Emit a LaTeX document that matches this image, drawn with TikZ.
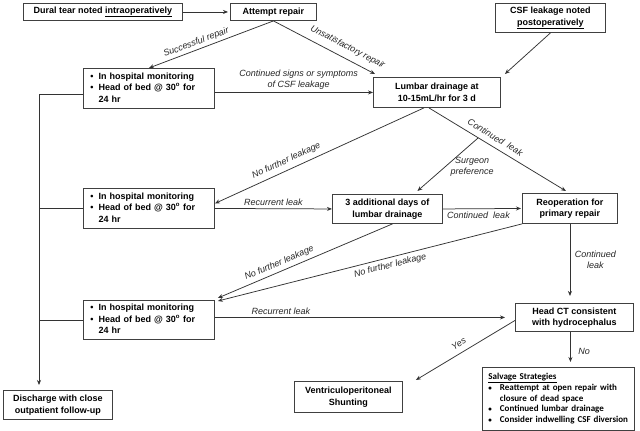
\documentclass[tikz,border=0pt]{standalone}
\usepackage{fontspec}
\setmainfont{Liberation Sans}
\newfontfamily\carlitofont{Carlito}
\usetikzlibrary{arrows.meta,calc}
\newcommand\monitortext{\begin{tabular}{@{}l@{\hspace{5pt}}l@{}}•&In hospital monitoring\\•&Head of bed @ 30\textsuperscript{o} for\\&24 hr\end{tabular}}
\begin{document}
\begin{tikzpicture}[x=1pt,y=-1pt,
  box/.style={draw=black!75, line width=0.9pt, fill=white, inner sep=0pt, align=center,
    font=\fontsize{9}{11.5}\selectfont\bfseries, anchor=north west},
  mon/.style={box, text width=117pt, inner xsep=7pt, align=left, minimum width=131pt},
  conn/.style={draw=black!80, line width=0.75pt},
  arr/.style={conn, -{Stealth[length=5pt,width=4pt]}},
  lbl/.style={font=\fontsize{9}{11}\selectfont\itshape, inner sep=1.5pt, text=black!85}]
\useasboundingbox (0,0) rectangle (640,431);
\fill[white] (0,0) rectangle (640,431);
\coordinate (rail) at (39,0);
% boxes
\node[box, minimum width=159pt, minimum height=17pt] (dural) at (23,3) {Dural tear noted \underline{intraoperatively}};
\node[box, minimum width=86pt, minimum height=17pt] (attempt) at (230,3) {Attempt repair};
\node[box, minimum width=110pt, minimum height=29pt] (csf) at (495,3) {CSF leakage noted\\\underline{postoperatively}};
\node[mon, minimum height=40pt] (m1) at (83,68) {\monitortext};
\node[box, minimum width=127pt, minimum height=30pt] (lumbar) at (373,77) {Lumbar drainage at\\10-15mL/hr for 3 d};
\node[mon, minimum height=40pt] (m2) at (83,188) {\monitortext};
\node[box, minimum width=110pt, minimum height=29pt] (add) at (332,194) {3 additional days of\\lumbar drainage};
\node[box, minimum width=95pt, minimum height=30pt] (reop) at (522,193) {Reoperation for\\primary repair};
\node[mon, minimum height=39pt] (m3) at (83,300) {\monitortext};
\node[box, minimum width=118pt, minimum height=28pt] (ct) at (515,303) {Head CT consistent\\with hydrocephalus};
\node[box, minimum width=109pt, minimum height=29pt] (disch) at (3,390) {Discharge with close\\outpatient follow-up};
\node[box, minimum width=108pt, minimum height=31pt] (vp) at (294,381) {Ventriculoperitoneal\\Shunting};
\node[box, text width=140pt, inner xsep=6pt, align=left, minimum height=63pt,
  font=\carlitofont\bfseries\fontsize{9}{10.6}\selectfont] (salv) at (482,367)
  {\begin{tabular}{@{}l@{\hspace{8pt}}l@{}}\multicolumn{2}{@{}l}{\underline{Salvage Strategies}}\\
   {\fontsize{7}{7}\selectfont •}&Reattempt at open repair with\\&closure of dead space\\{\fontsize{7}{7}\selectfont •}&Continued lumbar drainage\\
   {\fontsize{7}{7}\selectfont •}&Consider indwelling CSF diversion\end{tabular}};
% connectors
\draw[arr, shorten >=2pt] (dural) -- (attempt);
\draw[arr] (attempt.south) -- node[lbl, sloped, above=1pt, pos=0.6] {Successful repair} (m1.north);
\draw[arr] (attempt.south) -- node[lbl, sloped, above=5pt, pos=0.68] {Unsatisfactory repair} ($(lumbar.north west)+(2,-3)$);
\draw[arr] (csf.south) -- ($(lumbar.north east)+(4,-3)$);
\draw[arr] (m1.east |- lumbar.west) -- node[lbl, above=1pt, align=center, pos=0.53] {Continued signs or symptoms\\of CSF leakage} (lumbar.west);
\draw[arr] ([xshift=-13pt]lumbar.south) -- node[lbl, sloped, above=3pt, pos=0.64] {No further leakage} ([yshift=5pt]m2.east);
\draw[arr] ([xshift=-8pt]lumbar.south) -- coordinate[pos=0.36] (sp) node[lbl, sloped, above=4pt, pos=0.45] {Continued~ leak} ([xshift=-4pt,yshift=2pt]reop.north);
\draw[arr] (sp) -- node[lbl, anchor=west, align=center, pos=0.55, xshift=4pt] {Surgeon\\preference} ([xshift=30pt,yshift=3pt]add.north);
\draw[arr] (m2.east) -- node[lbl, above=1pt, pos=0.5] {Recurrent leak} (add.west);
\draw[arr, shorten >=1pt] (add.east) -- node[lbl, below=1pt, pos=0.45] {Continued~ leak} (reop.west);
\draw[arr] ([xshift=5pt]add.south) -- node[lbl, sloped, above=2pt, pos=0.63] {No further leakage} ($(m3.north east)+(3,-2)$);
\draw[arr] (reop.south west) -- node[lbl, sloped, below=2pt, pos=0.44] {No further leakage} ($(m3.north east)+(3,1)$);
\draw[arr, shorten >=7pt] (reop.south) -- node[lbl, anchor=west, align=center, pos=0.45, xshift=3pt] {Continued\\leak} (reop.south |- ct.north);
\draw[arr, shorten >=10pt] (m3.east |- ct.west) -- node[lbl, above=1pt, pos=0.22] {Recurrent leak} (ct.west);
\draw[arr] ([yshift=-3pt]ct.west) -- node[lbl, sloped, above=4pt, pos=0.52] {Yes} ($(vp.north east)+(13,-1)$);
\draw[arr, shorten >=5pt] ([xshift=-4pt]ct.south) -- node[lbl, anchor=west, pos=0.55, xshift=6pt] {No} ([xshift=-4pt]ct.south |- salv.north);
\draw[arr, shorten >=5pt] ([yshift=-6pt]m1.west) -| (rail |- disch.north);
\draw[conn] (m2.west) -- (rail |- m2.west);
\draw[conn] (m3.west) -- (rail |- m3.west);
\end{tikzpicture}
\end{document}
